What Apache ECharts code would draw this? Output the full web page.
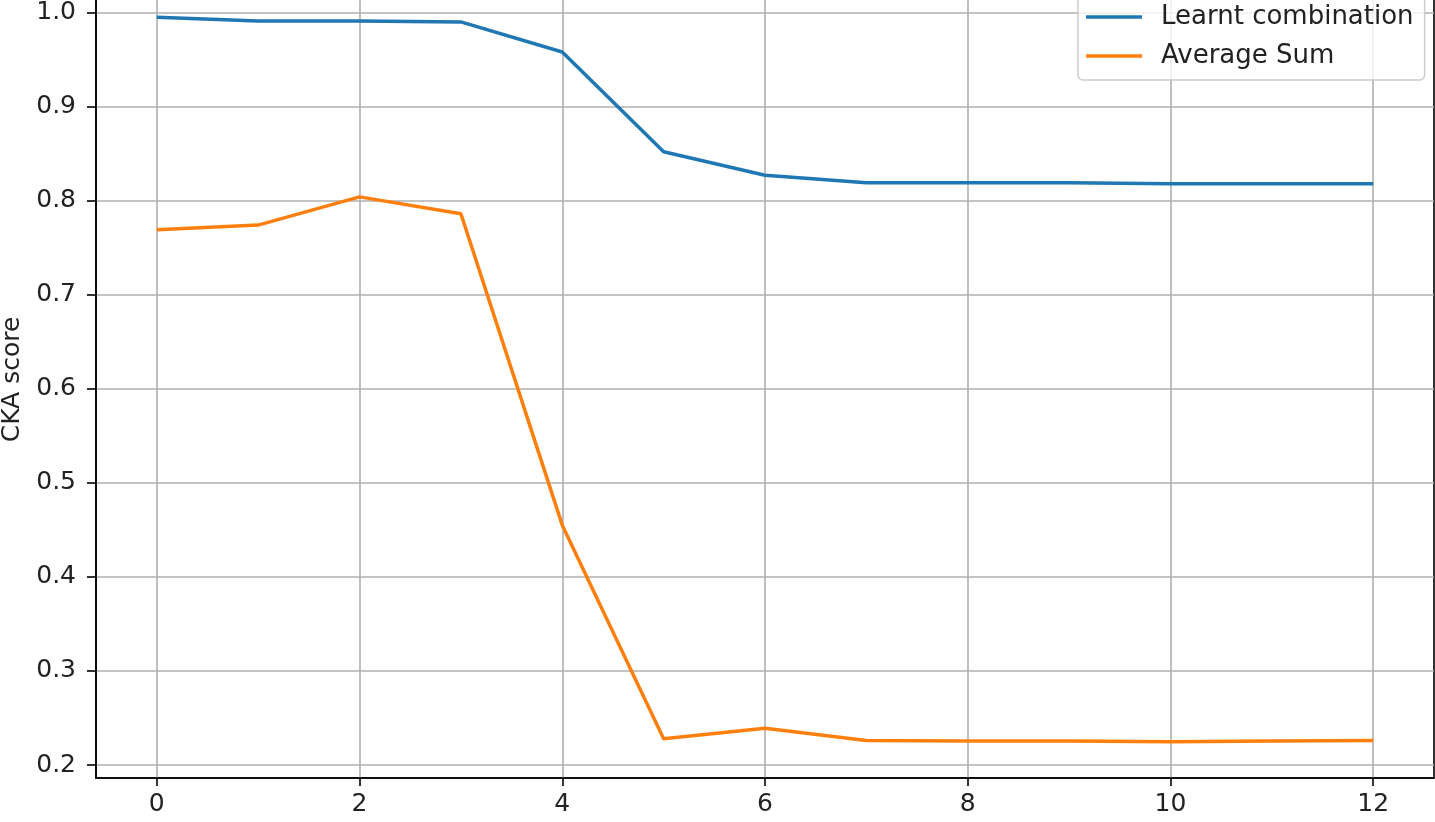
<!DOCTYPE html>
<html>
<head>
<meta charset="utf-8">
<script src="https://cdn.jsdelivr.net/npm/echarts@6/dist/echarts.min.js"></script>
<style>
  html, body { margin: 0; padding: 0; background: #fff; }
  #chart { width: 1435px; height: 822px; }
</style>
</head>
<body>
<div id="chart"></div>
<script>
// layer index on x axis
const layers = [0, 1, 2, 3, 4, 5, 6, 7, 8, 9, 10, 11, 12];
const learntCombination = [0.995, 0.991, 0.991, 0.990, 0.958, 0.852, 0.827, 0.819, 0.819, 0.819, 0.818, 0.818, 0.818];
const averageSum = [0.769, 0.774, 0.804, 0.786, 0.455, 0.228, 0.239, 0.226, 0.2255, 0.2255, 0.2248, 0.2255, 0.226];
const xTicks = [0, 2, 4, 6, 8, 10, 12];
const yTicks = [0.2, 0.3, 0.4, 0.5, 0.6, 0.7, 0.8, 0.9, 1.0];

const font = 'DejaVu Sans';

function pairs(ys) {
  return layers.map((x, i) => [x, ys[i]]);
}

let option = {
  animation: false,
  backgroundColor: '#fff',
  grid: {
    left: 96,
    right: 1,
    top: -19,
    bottom: 44,
    outerBoundsMode: 'none',
    containLabel: false,
    show: true,
    borderColor: '#000',
    borderWidth: 1.6,
  },
  legend: {
    orient: 'vertical',
    left: 1078,
    top: -7,
    padding: [11, 11, 11, 8],
    itemGap: 13,
    itemWidth: 56,
    itemHeight: 3.5,
    icon: 'rect',
    backgroundColor: 'rgba(255,255,255,0.8)',
    borderColor: '#cccccc',
    borderWidth: 1.5,
    borderRadius: 5,
    textStyle: { fontFamily: font, fontSize: 26, lineHeight: 26, color: '#222', padding: [0, 0, 0, 14] },
    data: ['Learnt combination', 'Average Sum'],
  },
  xAxis: {
    type: 'value',
    min: -0.6,
    max: 12.6,
    axisLine: { show: true, onZero: false, lineStyle: { color: '#000', width: 1.6 } },
    axisTick: { show: true, customValues: xTicks, length: 8, lineStyle: { color: '#000', width: 1.6 } },
    axisLabel: { customValues: xTicks, fontFamily: font, fontSize: 25, color: '#222', margin: 14 },
    splitLine: { show: true, lineStyle: { color: '#b0b0b0', width: 1.6 } },
  },
  yAxis: {
    type: 'value',
    min: 0.1862,
    max: 1.0335,
    name: 'CKA score',
    nameLocation: 'middle',
    nameGap: 69,
    nameRotate: 90,
    nameTextStyle: { fontFamily: font, fontSize: 25, color: '#222' },
    axisLine: { show: true, onZero: false, lineStyle: { color: '#000', width: 1.6 } },
    axisTick: { show: true, customValues: yTicks, length: 9, lineStyle: { color: '#000', width: 1.6 } },
    axisLabel: {
      customValues: yTicks,
      fontFamily: font,
      fontSize: 25,
      color: '#222',
      margin: 20,
      formatter: (v) => v.toFixed(1),
    },
    splitLine: { show: true, lineStyle: { color: '#b0b0b0', width: 1.6 } },
  },
  series: [
    {
      name: 'Learnt combination',
      type: 'line',
      data: pairs(learntCombination),
      symbol: 'none',
      lineStyle: { color: '#1f77b4', width: 3.5 },
      itemStyle: { color: '#1f77b4' },
    },
    {
      name: 'Average Sum',
      type: 'line',
      data: pairs(averageSum),
      symbol: 'none',
      lineStyle: { color: '#ff7f0e', width: 3.5 },
      itemStyle: { color: '#ff7f0e' },
    },
  ],
};

let myChart = echarts.init(document.getElementById('chart'));
myChart.setOption(option);
window.onresize = function () {
  myChart.resize();
};
</script>
</body>
</html>
